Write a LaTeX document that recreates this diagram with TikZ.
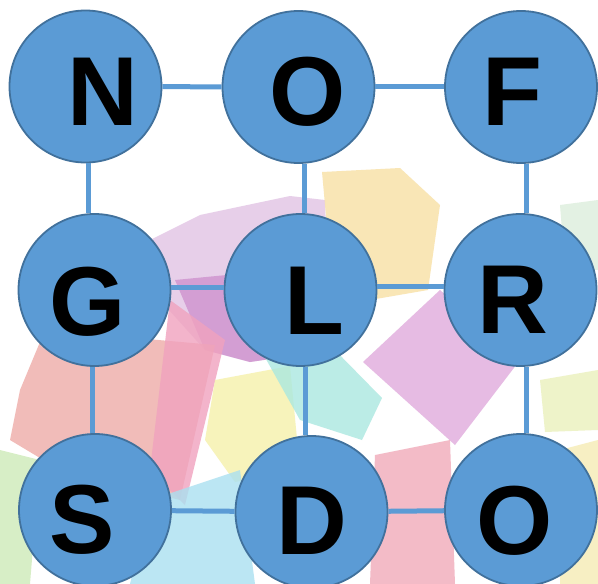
\documentclass[tikz,border=0pt]{standalone}
\usepackage{fontspec}
\setmainfont{Liberation Sans}
\usepackage{tikz}
\definecolor{tileblue}{HTML}{5B9BD5}
\definecolor{tileedge}{HTML}{41719C}
\tikzstyle{tile} = [circle, minimum size=152pt, inner sep=0pt, fill=tileblue, draw=tileedge, line width=1.8pt]
\tikzstyle{letter} = [font=\bfseries\fontsize{98}{98}\selectfont, text=black]
\tikzstyle{link} = [line width=5pt, draw=tileblue]
\tikzstyle{paper} = [draw=none, opacity=0.8]

\begin{document}
\begin{tikzpicture}[x=1pt, y=-1pt]
\useasboundingbox (0,0) rectangle (598,584);
\fill[white] (0,0) rectangle (598,584);

% faded paper scraps behind the grid
\fill[paper, fill={rgb,255:red,226;green,196;blue,228}] (130,250) -- (200,215) -- (290,196) -- (325,200) -- (330,350) -- (250,362) -- (205,350) -- (160,300) -- cycle;
\fill[paper, fill={rgb,255:red,206;green,146;blue,206}] (175,280) -- (330,265) -- (332,350) -- (250,362) -- (205,350) -- cycle;
\fill[paper, fill={rgb,255:red,248;green,224;blue,164}] (322,172) -- (400,168) -- (440,205) -- (428,290) -- (370,300) -- (330,260) -- cycle;
\fill[paper, fill={rgb,255:red,238;green,172;blue,168}] (45,330) -- (215,345) -- (180,500) -- (60,470) -- (10,440) -- (20,390) -- cycle;
\fill[paper, fill={rgb,255:red,240;green,162;blue,190}] (170,300) -- (225,340) -- (185,505) -- (150,470) -- cycle;
\fill[paper, fill={rgb,255:red,245;green,240;blue,170}] (215,380) -- (290,366) -- (300,470) -- (235,482) -- (205,440) -- cycle;
\fill[paper, fill={rgb,255:red,170;green,232;blue,224}] (262,352) -- (330,345) -- (382,398) -- (362,440) -- (300,420) -- cycle;
\fill[paper, fill={rgb,255:red,224;green,170;blue,220}] (363,362) -- (440,290) -- (520,360) -- (455,445) -- cycle;
\fill[paper, fill={rgb,255:red,240;green,170;blue,186}] (375,455) -- (450,440) -- (455,584) -- (370,584) -- cycle;
\fill[paper, fill={rgb,255:red,170;green,224;blue,240}] (150,500) -- (240,470) -- (255,584) -- (130,584) -- cycle;
\fill[paper, fill={rgb,255:red,206;green,234;blue,184}] (0,450) -- (40,460) -- (30,584) -- (0,584) -- cycle;
\fill[paper, fill={rgb,255:red,220;green,238;blue,220}] (560,205) -- (598,200) -- (598,270) -- (565,268) -- cycle;
\fill[paper, fill={rgb,255:red,234;green,240;blue,188}] (540,380) -- (598,370) -- (598,430) -- (545,432) -- cycle;
\fill[paper, fill={rgb,255:red,246;green,236;blue,180}] (560,450) -- (598,440) -- (598,584) -- (560,584) -- cycle;

% letter tiles
\node (n)  [tile, label={[letter, xshift=17pt, yshift=-5pt]center:N}] at (85.5,86.5) {};
\node (o1) [tile, label={[letter, xshift=9pt, yshift=-5pt]center:O}] at (298.5,87) {};
\node (f)  [tile, label={[letter, xshift=-9pt, yshift=-5pt]center:F}] at (521,87) {};
\node (g)  [tile, label={[letter, xshift=-7pt, yshift=-12pt]center:G}] at (94.5,290) {};
\node (l)  [tile, label={[letter, xshift=14pt, yshift=-11pt]center:L}] at (300.5,290) {};
\node (r)  [tile, label={[letter, xshift=-8pt, yshift=-10pt]center:R}] at (520.5,290) {};
\node (s)  [tile, label={[letter, xshift=-13pt, yshift=-10pt]center:S}] at (95,510) {};
\node (d)  [tile, label={[letter, xshift=0pt, yshift=-9pt]center:D}] at (311.5,512) {};
\node (o2) [tile, label={[letter, xshift=-6pt, yshift=-11pt]center:O}] at (521,510) {};

% rows
\draw [link] (n) -- (o1);
\draw [link] ([yshift=1pt]o1.east) -- ([yshift=1pt]f.west);
\draw [link] ([yshift=3pt]g.east) -- ([yshift=3pt]l.west);
\draw [link] ([yshift=4pt]l.east) -- ([yshift=4pt]r.west);
\draw [link] (s) -- (d);
\draw [link] (d) -- (o2);
% columns
\draw [link] ([xshift=3pt]n.south) -- ([xshift=-6pt]g.north);
\draw [link] ([xshift=-2.5pt]g.south) -- ([xshift=-3pt]s.north);
\draw [link] ([xshift=5.5pt]o1.south) -- ([xshift=3.5pt]l.north);
\draw [link] ([xshift=4.5pt]l.south) -- ([xshift=-6.5pt]d.north);
\draw [link] ([xshift=5pt]f.south) -- ([xshift=5.5pt]r.north);
\draw [link] ([xshift=5.5pt]r.south) -- ([xshift=5pt]o2.north);
\end{tikzpicture}
\end{document}
